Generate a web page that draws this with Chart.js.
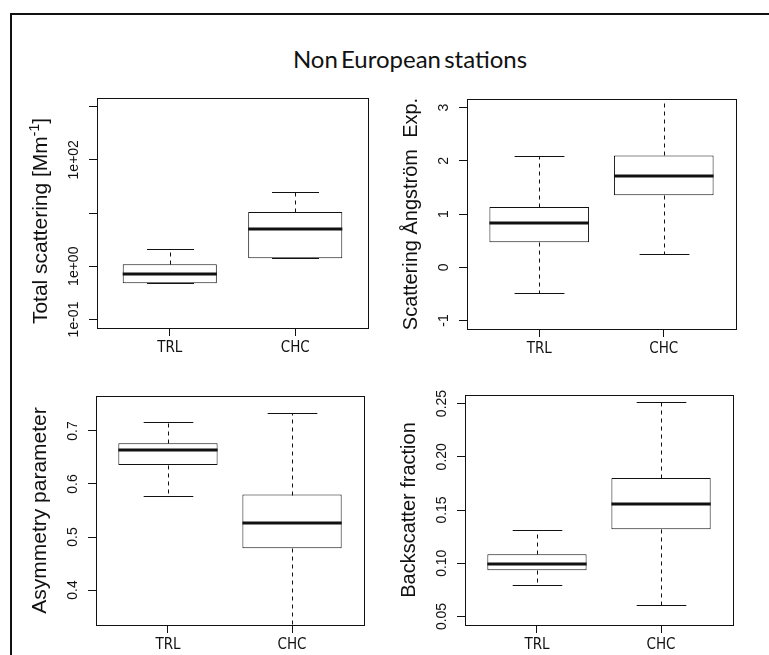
<!DOCTYPE html>
<html>
<head>
<meta charset="utf-8">
<title>Non European stations</title>
<script src="https://cdn.jsdelivr.net/npm/chart.js@4.4.1/dist/chart.umd.min.js"></script>
<style>
  html, body { margin: 0; padding: 0; background: #fff; }
  body { position: relative; width: 769px; height: 655px; overflow: hidden; }
  #frame {
    position: absolute; left: 10px; top: 13px; width: 900px; height: 800px;
    border-left: 2px solid #111; border-top: 2px solid #111;
  }
  #title {
    position: absolute; left: 210px; top: 47px; width: 400px;
    text-align: center; font: 24px/24px Lato, "Open Sans", sans-serif; color: #111;
    word-spacing: -3px;
  }
  canvas { position: absolute; }
</style>
</head>
<body>
<div id="frame"></div>
<div id="title">Non European stations</div>
<canvas id="scat" width="371" height="270" style="left:7px;top:88px"></canvas>
<canvas id="angstrom" width="369" height="270" style="left:377px;top:89px"></canvas>
<canvas id="asym" width="368" height="269" style="left:6px;top:386px"></canvas>
<canvas id="backscat" width="368" height="270" style="left:375px;top:385px"></canvas>
<script>
const stations = ['TRL', 'CHC'];

// five-number summaries: [lower whisker, Q1, median, Q3, upper whisker]
const scatTRL = [0.48, 0.48, 0.71, 1.09, 2.09];
const scatCHC = [1.42, 1.42, 5.0, 10.4, 25];
const angTRL = [-0.49, 0.47, 0.83, 1.13, 2.09];
const angCHC = [0.24, 1.35, 1.71, 2.10, 3.4];
const asymTRL = [0.578, 0.636, 0.665, 0.677, 0.717];
const asymCHC = [0.30, 0.479, 0.526, 0.580, 0.734];
const bfTRL = [0.080, 0.0935, 0.099, 0.1085, 0.131];
const bfCHC = [0.061, 0.132, 0.156, 0.180, 0.251];

// y ticks and their printed labels (R drops the ones that would overlap)
const scatTicks = [0.1, 1, 10, 100, 1000];
const scatTickLabels = ['1e-01', '1e+00', '', '1e+02', ''];
const angTicks = [-1, 0, 1, 2, 3];
const angTickLabels = ['-1', '0', '1', '2', '3'];
const asymTicks = [0.4, 0.5, 0.6, 0.7];
const asymTickLabels = ['0.4', '0.5', '0.6', '0.7'];
const bfTicks = [0.05, 0.10, 0.15, 0.20, 0.25];
const bfTickLabels = ['0.05', '0.10', '0.15', '0.20', '0.25'];

const INK = '#111';

function line(ctx, x1, y1, x2, y2) {
  ctx.beginPath();
  ctx.moveTo(x1, y1);
  ctx.lineTo(x2, y2);
  ctx.stroke();
}

// whiskers, staples, medians and the plot frame
const boxExtras = {
  id: 'boxExtras',
  afterDatasetsDraw(chart) {
    const { ctx, chartArea: a, scales: { y } } = chart;
    const ds = chart.data.datasets[0];
    const meta = chart.getDatasetMeta(0);
    ctx.save();
    ctx.beginPath();
    ctx.rect(a.left, a.top, a.right - a.left, a.bottom - a.top);
    ctx.clip();
    ctx.strokeStyle = INK;
    ds.stats.forEach((s, i) => {
      const bar = meta.data[i];
      const cx = Math.round(bar.x) + 0.5;
      const half = bar.width / 2;
      const py = v => Math.round(y.getPixelForValue(v)) + 0.5;
      ctx.lineWidth = 1;
      ctx.setLineDash([4, 4]);
      if (s[4] !== s[3]) line(ctx, cx, py(s[3]), cx, py(s[4]));
      if (s[0] !== s[1]) line(ctx, cx, py(s[1]), cx, py(s[0]));
      ctx.setLineDash([]);
      line(ctx, cx - half / 2, py(s[4]), cx + half / 2, py(s[4]));
      line(ctx, cx - half / 2, py(s[0]), cx + half / 2, py(s[0]));
      ctx.lineWidth = 3;
      const my = Math.round(y.getPixelForValue(s[2]));
      line(ctx, bar.x - half, my, bar.x + half, my);
    });
    ctx.restore();
    ctx.save();
    ctx.strokeStyle = INK;
    ctx.lineWidth = 1;
    ctx.strokeRect(Math.round(a.left) + 0.5, Math.round(a.top) + 0.5,
      Math.round(a.right - a.left), Math.round(a.bottom - a.top));
    ctx.restore();
  },
  afterDraw(chart) {
    const { ctx, chartArea: a, scales: { x, y } } = chart;
    const ds = chart.data.datasets[0];
    ctx.save();
    ctx.fillStyle = INK;
    // station names under the x ticks
    ctx.font = '15px "Liberation Sans Narrow", "DejaVu Sans Condensed", sans-serif';
    ctx.textAlign = 'center';
    ctx.textBaseline = 'alphabetic';
    stations.forEach((name, i) => {
      ctx.fillText(name, x.getPixelForValue(i + 1), a.bottom + 24);
    });
    // rotated y tick labels
    ctx.font = '14px "Liberation Sans", Arial, sans-serif';
    ds.ticks.forEach((v, i) => {
      const label = ds.tickLabels[i];
      if (!label) return;
      ctx.save();
      ctx.translate(a.left - 19, y.getPixelForValue(v));
      ctx.rotate(-Math.PI / 2);
      ctx.fillText(label, 0, 0);
      ctx.restore();
    });
    // y axis title, with optional superscript part
    const [main, sup, tail] = ds.yTitle;
    const size = ds.titleSize || 21;
    ctx.save();
    ctx.translate(a.left - 50, (a.top + a.bottom) / 2 + (ds.titleShift || 0));
    ctx.rotate(-Math.PI / 2);
    ctx.textAlign = 'left';
    const bigFont = size + 'px "Liberation Sans", Arial, sans-serif';
    const smallFont = '14px "Liberation Sans", Arial, sans-serif';
    ctx.font = bigFont;
    const w1 = ctx.measureText(main).width;
    const w3 = tail ? ctx.measureText(tail).width : 0;
    ctx.font = smallFont;
    const w2 = sup ? ctx.measureText(sup).width : 0;
    let pos = -(w1 + w2 + w3) / 2;
    ctx.font = bigFont;
    ctx.fillText(main, pos, 0);
    pos += w1;
    if (sup) {
      ctx.font = smallFont;
      ctx.fillText(sup, pos, -8);
      pos += w2;
    }
    if (tail) {
      ctx.font = bigFont;
      ctx.fillText(tail, pos, 0);
    }
    ctx.restore();
    ctx.restore();
  }
};

function makePanel(id, opts) {
  const stats = [opts.trl, opts.chc];
  const boxes = stats.map((s, i) => ({ x: i + 1, y: [s[1], s[3]] }));
  return new Chart(document.getElementById(id), {
    type: 'bar',
    data: {
      datasets: [{
        data: boxes,
        stats,
        ticks: opts.ticks,
        tickLabels: opts.tickLabels,
        yTitle: opts.title,
        titleShift: opts.titleShift,
        titleSize: opts.titleSize,
        backgroundColor: '#fff',
        borderColor: INK,
        borderWidth: 1,
        borderSkipped: false,
        barPercentage: opts.boxWidth,
        categoryPercentage: 1
      }]
    },
    options: {
      responsive: false,
      animation: false,
      events: [],
      layout: { padding: { top: 10, right: 10, left: 0, bottom: 0 } },
      plugins: { legend: { display: false }, tooltip: { enabled: false } },
      scales: {
        x: {
          type: 'linear',
          offset: false,
          min: 0.42,
          max: 2.58,
          afterBuildTicks: s => { s.ticks = stations.map((_, i) => ({ value: i + 1 })); },
          afterFit: s => { s.height = 30; },
          ticks: { display: false },
          border: { display: false },
          grid: { offset: false, drawOnChartArea: false, drawTicks: true, tickLength: 8, color: INK, lineWidth: 1 }
        },
        y: {
          type: opts.log ? 'logarithmic' : 'linear',
          min: opts.min,
          max: opts.max,
          afterBuildTicks: s => { s.ticks = opts.ticks.map(v => ({ value: v })); },
          afterFit: s => { s.width = 90; },
          ticks: { display: false },
          border: { display: false },
          grid: { drawOnChartArea: false, drawTicks: true, tickLength: 8, color: INK, lineWidth: 1 }
        }
      }
    },
    plugins: [boxExtras]
  });
}

makePanel('scat', {
  trl: scatTRL, chc: scatCHC, log: true,
  min: Math.pow(10, -1.16), max: Math.pow(10, 3.16),
  ticks: scatTicks, tickLabels: scatTickLabels,
  title: ['Total scattering [Mm', '-1', ']'], titleShift: 8, boxWidth: 0.75
});
makePanel('angstrom', {
  trl: angTRL, chc: angCHC, min: -1.16, max: 3.16,
  ticks: angTicks, tickLabels: angTickLabels,
  title: ['Scattering Ångström  Exp.'], titleSize: 20, boxWidth: 0.8
});
makePanel('asym', {
  trl: asymTRL, chc: asymCHC, min: 0.334, max: 0.766,
  ticks: asymTicks, tickLabels: asymTickLabels,
  title: ['Asymmetry parameter'], boxWidth: 0.8
});
makePanel('backscat', {
  trl: bfTRL, chc: bfCHC, min: 0.042, max: 0.258,
  ticks: bfTicks, tickLabels: bfTickLabels,
  title: ['Backscatter fraction'], titleSize: 20, boxWidth: 0.8
});
</script>
</body>
</html>
